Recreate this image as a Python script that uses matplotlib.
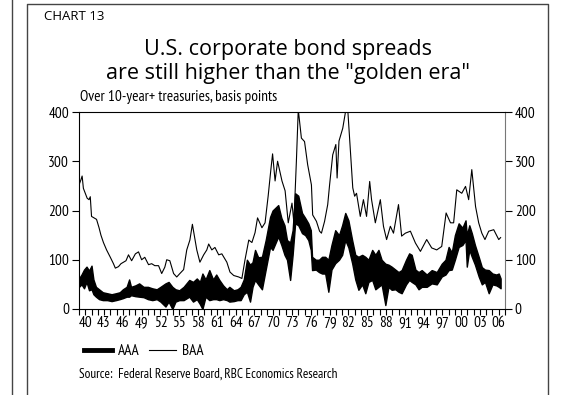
import matplotlib
matplotlib.use("Agg")
import matplotlib.pyplot as plt
from matplotlib.lines import Line2D

# BAA spread over 10-year+ treasuries (bp)
baa_year = [1939.0, 1939.3, 1939.5, 1939.7, 1940.0, 1940.3, 1940.6, 1940.8, 1941.0, 1941.4,
            1941.8, 1942.2, 1942.5, 1942.9, 1943.4, 1944.0, 1944.5, 1944.8, 1945.3, 1945.7,
            1946.1, 1946.5, 1946.9, 1947.4, 1948.0, 1948.5, 1949.0, 1949.5, 1950.1, 1950.6,
            1951.1, 1951.7, 1952.2, 1952.7, 1953.0, 1953.5, 1954.1, 1954.6, 1955.1, 1955.7,
            1956.2, 1956.7, 1957.1, 1957.4, 1957.8, 1958.3, 1958.9, 1959.4, 1959.7, 1960.2,
            1960.7, 1961.3, 1961.8, 1962.6, 1963.1, 1963.7, 1964.5, 1965.0, 1965.5, 1966.1,
            1966.6, 1967.1, 1967.5, 1968.2, 1968.7, 1969.2, 1969.6, 1969.9, 1970.3, 1970.7,
            1971.4, 1971.9, 1972.4, 1973.0, 1973.3, 1973.7, 1974.0, 1974.5, 1975.0, 1975.5,
            1976.1, 1976.3, 1976.9, 1977.4, 1977.7, 1978.2, 1978.7, 1979.0, 1979.5, 1980.0,
            1980.2, 1980.5, 1981.1, 1981.6, 1981.9, 1982.4, 1982.7, 1983.0, 1983.3, 1983.9,
            1984.4, 1984.9, 1985.4, 1985.7, 1986.3, 1987.1, 1987.6, 1988.1, 1988.7, 1989.2,
            1990.0, 1990.5, 1991.1, 1991.9, 1992.7, 1993.5, 1994.5, 1995.3, 1996.1, 1996.9,
            1997.6, 1998.3, 1998.8, 1999.3, 2000.1, 2000.7, 2001.2, 2001.7, 2002.3, 2002.8,
            2003.3, 2003.8, 2004.4, 2005.2, 2006.0, 2006.3]
baa = [252, 262, 270, 245, 235, 225, 222, 228, 188, 185,
       182, 165, 150, 135, 120, 105, 92, 83, 86, 92,
       95, 98, 110, 98, 112, 116, 100, 105, 90, 92,
       88, 88, 72, 85, 100, 98, 72, 65, 72, 80,
       120, 140, 172, 150, 120, 95, 110, 120, 132, 120,
       125, 110, 112, 95, 75, 68, 65, 62, 100, 140,
       135, 155, 185, 165, 175, 230, 280, 315, 260, 300,
       260, 240, 175, 215, 175, 300, 405, 347, 340, 293,
       252, 191, 178, 158, 154, 178, 212, 252, 313, 334,
       266, 341, 367, 405, 405, 306, 246, 229, 235, 188,
       222, 188, 259, 222, 175, 222, 168, 141, 168, 154,
       212, 148, 154, 158, 134, 117, 141, 124, 120, 127,
       195, 175, 175, 242, 235, 249, 222, 283, 208, 175,
       154, 141, 158, 161, 141, 145]

# AAA spread, monthly low/high range (bp)
aaa_year = [1939.0, 1939.4, 1939.8, 1940.2, 1940.6, 1941.0, 1941.3, 1941.7, 1942.2, 1942.8,
            1943.5, 1944.2, 1944.9, 1945.5, 1946.0, 1946.6, 1947.0, 1947.3, 1948.0, 1948.6,
            1949.3, 1950.0, 1950.7, 1951.4, 1952.0, 1952.8, 1953.3, 1953.9, 1954.4, 1955.0,
            1955.7, 1956.6, 1957.2, 1957.8, 1958.3, 1958.7, 1959.2, 1959.8, 1960.4, 1960.9,
            1961.4, 1962.0, 1962.6, 1963.0, 1963.7, 1964.3, 1964.8, 1965.3, 1965.8, 1966.3,
            1966.7, 1967.1, 1967.6, 1968.2, 1968.8, 1969.5, 1969.9, 1970.8, 1971.3, 1971.8,
            1972.2, 1972.7, 1973.1, 1973.5, 1974.0, 1974.6, 1975.1, 1975.6, 1976.0, 1976.2,
            1976.8, 1977.3, 1977.8, 1978.3, 1978.8, 1979.3, 1979.9, 1980.5, 1981.0, 1981.5,
            1982.0, 1982.6, 1983.1, 1983.6, 1984.2, 1984.7, 1985.2, 1985.8, 1986.3, 1986.8,
            1987.3, 1987.9, 1988.4, 1988.9, 1989.5, 1990.0, 1990.5, 1991.2, 1991.7, 1992.1,
            1992.7, 1993.2, 1993.7, 1994.5, 1995.3, 1996.1, 1996.9, 1997.5, 1998.0, 1998.5,
            1999.0, 1999.6, 2000.2, 2000.7, 2000.9, 2001.3, 2001.7, 2002.2, 2002.8, 2003.3,
            2003.8, 2004.4, 2005.0, 2005.6, 2006.0, 2006.3]
aaa_lo = [45, 50, 42, 55, 38, 40, 30, 25, 20, 18,
          18, 16, 18, 20, 22, 25, 25, 28, 26, 25,
          24, 20, 18, 20, 15, 5, 15, 0, 15, 18,
          18, 25, 15, 20, 10, 0, 25, 18, 20, 20,
          18, 20, 18, 15, 16, 18, 18, 30, 35, 15,
          45, 59, 50, 40, 80, 126, 120, 147, 130, 110,
          100, 59, 110, 174, 170, 154, 150, 140, 120, 79,
          80, 75, 72, 72, 35, 80, 93, 100, 110, 140,
          125, 93, 60, 39, 50, 32, 55, 59, 40, 45,
          50, 8, 45, 39, 40, 35, 32, 50, 59, 55,
          50, 40, 45, 45, 52, 50, 66, 70, 79, 80,
          100, 126, 130, 140, 86, 120, 106, 90, 66, 50,
          55, 32, 50, 48, 45, 42]
aaa_hi = [62, 70, 80, 86, 78, 88, 60, 45, 40, 34,
          32, 30, 32, 34, 40, 45, 60, 45, 48, 52,
          45, 45, 42, 40, 45, 52, 55, 45, 40, 38,
          45, 59, 55, 62, 55, 72, 60, 79, 60, 70,
          59, 48, 40, 45, 38, 40, 45, 60, 100, 90,
          95, 120, 105, 106, 140, 187, 200, 211, 185, 170,
          140, 135, 160, 235, 230, 195, 185, 174, 160, 106,
          100, 100, 106, 106, 100, 130, 160, 150, 170, 195,
          180, 140, 110, 106, 110, 106, 100, 120, 110, 120,
          100, 92, 90, 86, 80, 75, 79, 100, 113, 110,
          80, 75, 79, 70, 79, 75, 92, 100, 126, 115,
          150, 174, 165, 180, 150, 170, 154, 130, 106, 85,
          80, 79, 72, 70, 72, 62]

tick_years = list(range(1940, 2007, 3))
tick_labels = ["%02d" % (y % 100) for y in tick_years]

narrow = "PT Sans Narrow"
title_font = "Open Sans"

fig = plt.figure(figsize=(5.67, 3.95), dpi=100)

# page frame
fig.add_artist(Line2D([12/567, 12/567], [0, 1], color="#444444", lw=1))
fig.add_artist(Line2D([27/567, 27/567, 548/567, 548/567], [0, 1-4/395, 1-4/395, 0],
                      color="#444444", lw=1))

ax = fig.add_axes([79/567, 86/395, 426/567, 197/395])
ax.fill_between(aaa_year, aaa_lo, aaa_hi, color="black", lw=1.0, edgecolor="black")
ax.plot(baa_year, baa, color="black", lw=0.8)

ax.set_xlim(1939, 2007)
ax.set_ylim(0, 400)
ax.set_yticks([0, 100, 200, 300, 400])
ax.set_xticks(tick_years)
ax.set_xticklabels(tick_labels)
ax.set_xticks(range(1939, 2008), minor=True)
ax.tick_params(axis="x", which="both", direction="out", length=4, width=0.8, pad=1)
ax.tick_params(axis="y", direction="out", length=5, width=0.8, pad=2,
               right=True, labelright=True)
for lab in ax.get_xticklabels() + ax.get_yticklabels():
    lab.set_fontfamily(narrow)
    lab.set_fontsize(11)
ax.spines["right"].set_color("#777777")
for s in ["left", "bottom", "top"]:
    ax.spines[s].set_linewidth(0.8)

fig.text(44/567, 1-17/395, "CHART 13", fontsize=9.5, family=title_font, va="center", ha="left")
fig.text(288/567, 1-50/395, "U.S. corporate bond spreads", fontsize=15.5,
         family=title_font, ha="center", va="center")
fig.text(288/567, 1-73/395, "are still higher than the \"golden era\"", fontsize=15.5,
         family=title_font, ha="center", va="center")
fig.text(80/567, 1-97/395, "Over 10-year+ treasuries, basis points", fontsize=11,
         family=narrow, ha="left", va="center")

handles = [Line2D([], [], color="black", lw=3.5), Line2D([], [], color="black", lw=0.8)]
fig.legend(handles, ["AAA", "BAA"], loc="center left", bbox_to_anchor=(84/567, 1-351/395),
           ncol=2, frameon=False, prop={"family": narrow, "size": 11},
           handlelength=1.8, handletextpad=0.4, columnspacing=0.6, borderaxespad=0,
           borderpad=0)
fig.text(79/567, 1-374/395, "Source:  Federal Reserve Board, RBC Economics Research",
         fontsize=9.5, family=narrow, ha="left", va="center")

fig.savefig("out.png", dpi=100)
